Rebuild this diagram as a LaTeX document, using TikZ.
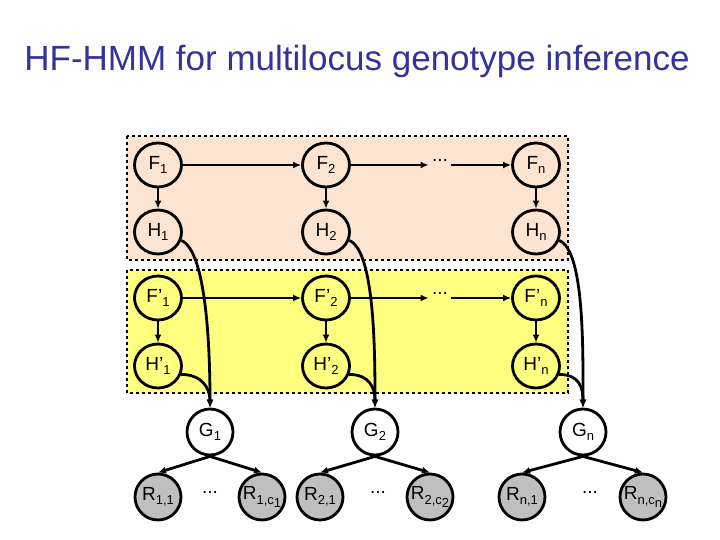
\documentclass[tikz,border=0pt]{standalone}
\usepackage{fontspec}
\setmainfont{Liberation Sans}
\usetikzlibrary{arrows.meta,shapes.geometric}
\definecolor{peach}{HTML}{FCE4D0}
\definecolor{lyel}{HTML}{FFFF80}
\definecolor{ttl}{HTML}{333399}
\newcommand{\sbs}[1]{\raisebox{-0.45ex}{\fontsize{13}{13}\selectfont #1}}
\newcommand{\ap}{{\char"27}}
\begin{document}
\begin{tikzpicture}[x=1pt,y=-1pt,
  nd/.style={draw=black,line width=2.8pt,ellipse,minimum width=47pt,minimum height=44pt,inner sep=0pt,font=\fontsize{19}{19}\selectfont},
  cnd/.style={nd,circle,minimum size=46pt},
  arr/.style={-{Latex[length=8pt,width=7pt]},line width=2.8pt},
  dots/.style={font=\fontsize{19}{19}\selectfont}]
\path[use as bounding box,fill=white] (0,0) rectangle (720,540);
\node[text=ttl,font=\fontsize{35}{35}\selectfont] (title) at (357,61) {HF-HMM for multilocus genotype inference};
\draw[fill=peach,dashed,line width=1.8pt] (127,136) rectangle (568,260);
\draw[fill=lyel,dashed,line width=1.8pt] (127,270) rectangle (568,393);
\node[nd] (F1) at (158,165) {F\sbs{1}};
\node[nd] (F2) at (326,165) {F\sbs{2}};
\node[dots] (Fd) at (440,160) {...};
\node[nd] (Fn) at (536,165) {F\sbs{n}};
\node[nd] (H1) at (158,232) {H\sbs{1}};
\node[nd] (H2) at (326,232) {H\sbs{2}};
\node[nd] (Hn) at (536,232) {H\sbs{n}};
\node[nd] (P1) at (158,298) {F\ap\sbs{1}};
\node[nd] (P2) at (326,298) {F\ap\sbs{2}};
\node[dots] (Pd) at (440,293) {...};
\node[nd] (Pn) at (536,298) {F\ap\sbs{n}};
\node[nd] (Q1) at (158,366) {H\ap\sbs{1}};
\node[nd] (Q2) at (326,366) {H\ap\sbs{2}};
\node[nd] (Qn) at (536,366) {H\ap\sbs{n}};
\node[cnd,fill=white] (G1) at (210,432) {G\sbs{1}};
\node[cnd,fill=white] (G2) at (375,432) {G\sbs{2}};
\node[cnd,fill=white] (Gn) at (583,432) {G\sbs{n}};
\foreach \n/\x/\t in {R11/158/{R\sbs{1,1}},R1c/262/{R\sbs{1,c\sbs{1}}},R21/320/{R\sbs{2,1}},R2c/430/{R\sbs{2,c\sbs{2}}},Rn1/522/{R\sbs{n,1}},Rnc/643/{R\sbs{n,c\sbs{n}}}}
  \node[cnd,fill=black!25] (\n) at (\x,497) {\t};
\node[dots] (d1) at (210,492) {...};
\node[dots] (d2) at (378,492) {...};
\node[dots] (d3) at (590,492) {...};
\foreach \a/\b in {F1/F2,P1/P2}
  \draw[arr] (\a) -- (\b);
\draw[arr] (F2) -- (Fd.west|-F2);
\draw[arr] (Fd.east|-Fn) -- (Fn);
\draw[arr] (P2) -- (Pd.west|-P2);
\draw[arr] (Pd.east|-Pn) -- (Pn);
\foreach \a/\b in {F1/H1,F2/H2,Fn/Hn,P1/Q1,P2/Q2,Pn/Qn}
  \draw[arr] (\a) -- (\b);
\foreach \h/\q/\g in {H1/Q1/G1,H2/Q2/G2,Hn/Qn/Gn}{
  \draw[arr] (\h.-20) .. controls +(25,10) and +(0,-60) .. (\g.north);
  \draw[arr] (\q.-20) .. controls +(20,0) and +(0,-20) .. (\g.north);
}
\foreach \g/\l/\r in {G1/R11/R1c,G2/R21/R2c,Gn/Rn1/Rnc}{
  \draw[arr] (\g.south) -- (\l.north);
  \draw[arr] (\g.south) -- (\r.north);
}
\end{tikzpicture}
\end{document}
